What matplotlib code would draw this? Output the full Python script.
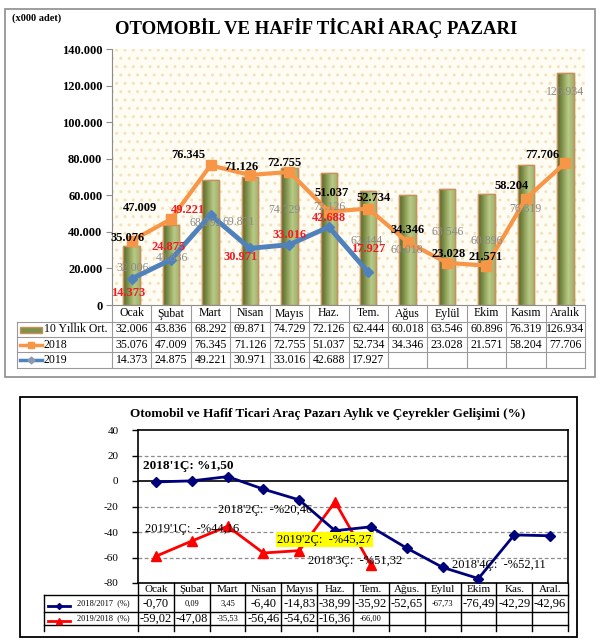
import matplotlib.pyplot as plt
import numpy as np
from matplotlib.patches import Rectangle
from matplotlib.lines import Line2D
from matplotlib.colors import LinearSegmentedColormap
from matplotlib.transforms import blended_transform_factory

plt.rcParams['font.family'] = ['Liberation Serif', 'DejaVu Serif']

# ---- data: top chart (x000 adet)
months = ['Ocak', 'Şubat', 'Mart', 'Nisan', 'Mayıs', 'Haz.', 'Tem.',
          'Ağus', 'Eylül', 'Ekim', 'Kasım', 'Aralık']
avg10 = [32006, 43836, 68292, 69871, 74729, 72126, 62444,
         60018, 63546, 60896, 76319, 126934]
sales2018 = [35076, 47009, 76345, 71126, 72755, 51037, 52734,
             34346, 23028, 21571, 58204, 77706]
sales2019 = [14373, 24875, 49221, 30971, 33016, 42688, 17927]

# ---- data: bottom chart (% change)
months2 = ['Ocak', 'Şubat', 'Mart', 'Nisan', 'Mayıs', 'Haz.', 'Tem.',
           'Ağus.', 'Eylul', 'Ekim', 'Kas.', 'Aral.']
chg1817 = [-0.70, 0.09, 3.45, -6.40, -14.83, -38.99, -35.92,
           -52.65, -67.73, -76.49, -42.29, -42.96]
chg1918 = [-59.02, -47.08, -35.53, -56.46, -54.62, -16.36, -66.00]
quarter_notes = ["2018'1Ç: %1,50", "2018'2Ç:  -%20,46", "2019'1Ç:  -%44,16",
                 "2019'2Ç:  -%45,27", "2018'3Ç:  -%51,32", "2018'4Ç:  -%52,11"]

# hand placed label offsets (pixels)
off2018 = [(-4, 3), (-31, 11), (-22, 10), (-9, 8), (-5, 9), (3, 19),
           (5, 11), (0, 12), (2, 9), (-1, 9), (-14, 13), (-23, 8)]
off2019 = [(-4, -14), (-3, 13), (-23, 5), (-9, -9), (0, 10), (0, 9), (0, 23)]
offavg = [(1, -22), (1, -33), (-5, -43), (-11, -45), (-5, -42), (1, -34),
          (-2, -50), (-1, -55), (1, -43), (0, -47), (0, -44), (0, -19)]
note_pos = [(-0.36, 12), (1.73, -22.5), (-0.31, -37.5),
            (3.38, -46), (4.24, -63), (8.26, -65.5)]
small1817 = [1, 2, 8]
small1918 = [2, 6]

W, H = 607, 644
fig = plt.figure(figsize=(W / 100, H / 100), dpi=100)


def fx(px):
    return px / W


def fy(py):
    return 1 - py / H


def tr_num(v):
    return f'{v:,}'.replace(',', '.')


def tr_pct(v):
    return f'{v:.2f}'.replace('.', ',')


# ================= top panel =================
fig.add_artist(Rectangle((fx(5), fy(377)), fx(590), 368 / H, transform=fig.transFigure,
                         fill=False, edgecolor='#8c8c8c', lw=1.2))
fig.text(fx(12), fy(18), '(x000 adet)', fontsize=7.5, fontweight='bold', va='center')
fig.text(fx(316), fy(28), 'OTOMOBİL VE HAFİF TİCARİ ARAÇ PAZARI', fontsize=13.5,
         fontweight='bold', ha='center', va='center')

ax = fig.add_axes([fx(112), fy(305), fx(473), 256 / H])
x = np.arange(len(months))
ax.add_patch(Rectangle((0, 0), 1, 1, transform=ax.transAxes, facecolor='#fffcf3',
                       edgecolor='#f2e3bd', hatch='..', lw=0, zorder=0))
ax.set_facecolor('white')

bar_cmap = LinearSegmentedColormap.from_list('olive', ['#56642a', '#85974f', '#b9ca88', '#9fb16a'])
grad = np.linspace(0, 1, 64).reshape(1, -1)
bars = ax.bar(x, avg10, width=0.42, color='#97a862', edgecolor='#c8905a', lw=1, zorder=2)
for b in bars:
    im = ax.imshow(grad, extent=[b.get_x(), b.get_x() + b.get_width(), 0, b.get_height()],
                   aspect='auto', cmap=bar_cmap, zorder=2.1)
    im.set_clip_path(b)
    ax.add_patch(Rectangle((b.get_x(), 0), b.get_width(), b.get_height(), fill=False,
                           edgecolor='#c8905a', lw=1, zorder=2.2))

ax.plot(x, sales2018, color='#f79646', lw=3, marker='s', ms=7, zorder=4)
ax.plot(np.arange(len(sales2019)), sales2019, color='#4f81bd', lw=3.5, marker='D',
        ms=5, mec='#4f81bd', zorder=5)

for i, v in enumerate(avg10):
    ax.annotate(tr_num(v), (i, v), xytext=offavg[i], textcoords='offset pixels',
                ha='center', va='center', fontsize=8.5, color='#8a8a8a', zorder=6)
for i, v in enumerate(sales2018):
    ax.annotate(tr_num(v), (i, v), xytext=off2018[i], textcoords='offset pixels',
                ha='center', va='center', fontsize=9, fontweight='bold', color='black', zorder=7)
for i, v in enumerate(sales2019):
    ax.annotate(tr_num(v), (i, v), xytext=off2019[i], textcoords='offset pixels',
                ha='center', va='center', fontsize=9, fontweight='bold', color='#ee1c24', zorder=7)

ax.set_xlim(-0.5, len(months) - 0.5)
ax.set_ylim(0, 140000)
ax.set_yticks(range(0, 140001, 20000))
ax.set_yticklabels([tr_num(t) if t else '0' for t in range(0, 140001, 20000)],
                   fontsize=9, fontweight='bold')
ax.set_xticks([])
for s in ['top', 'right']:
    ax.spines[s].set_visible(False)
ax.spines['left'].set_color('#8c8c8c')
ax.spines['bottom'].set_color('#8c8c8c')
ax.tick_params(axis='y', color='#8c8c8c', length=4, pad=3)

# top data table
tb = blended_transform_factory(ax.transData, fig.transFigure)
rows_top = [305, 322, 337, 352, 368]
gcol = '#9a9a9a'
for k in range(len(months) + 1):
    fig.add_artist(Line2D([k - 0.5, k - 0.5], [fy(305), fy(368)], transform=tb, color=gcol, lw=0.8))
fig.add_artist(Line2D([fx(17), fx(17)], [fy(322), fy(368)], transform=fig.transFigure, color=gcol, lw=0.8))
for py in rows_top[1:]:
    fig.add_artist(Line2D([fx(17), fx(585)], [fy(py), fy(py)], transform=fig.transFigure, color=gcol, lw=0.8))
row_vals = [avg10, sales2018, sales2019]
for i, m in enumerate(months):
    fig.text(i, fy(313.5), m, transform=tb, ha='center', va='center', fontsize=8.5)
    for r, vals in enumerate(row_vals):
        if i < len(vals):
            fig.text(i, fy((rows_top[r + 1] + rows_top[r + 2]) / 2), tr_num(vals[i]),
                     transform=tb, ha='center', va='center', fontsize=8.5)
row_names = ['10 Yıllık Ort.', '2018', '2019']
for r, name in enumerate(row_names):
    yc = fy((rows_top[r + 1] + rows_top[r + 2]) / 2)
    fig.text(fx(44), yc, name, ha='left', va='center', fontsize=8.5)
fig.add_artist(Rectangle((fx(20), fy(333)), fx(22), 6 / H, transform=fig.transFigure,
                         facecolor='#7f9049', edgecolor='#c8905a', lw=1))
fig.add_artist(Line2D([fx(20), fx(42)], [fy(344.5)] * 2, transform=fig.transFigure,
                      color='#f79646', lw=2.5))
fig.add_artist(Line2D([fx(31)], [fy(344.5)], transform=fig.transFigure, color='#f79646',
                      marker='s', ms=5))
fig.add_artist(Line2D([fx(20), fx(42)], [fy(360)] * 2, transform=fig.transFigure,
                      color='#4f81bd', lw=2.5))
fig.add_artist(Line2D([fx(31)], [fy(360)], transform=fig.transFigure, color='#8a9bb0',
                      marker='D', ms=3.5))

# ================= bottom panel =================
fig.add_artist(Rectangle((fx(20), fy(637)), fx(557), 240 / H, transform=fig.transFigure,
                         fill=False, edgecolor='black', lw=1.3))
fig.text(fx(328), fy(414), 'Otomobil ve Hafif Ticari Araç Pazarı Aylık ve Çeyrekler Gelişimi (%)',
         ha='center', va='center', fontsize=9.5, fontweight='bold')

ax2 = fig.add_axes([fx(138), fy(583), fx(430), 153 / H])
x2 = np.arange(len(months2))
ax2.set_xlim(-0.5, len(months2) - 0.5)
ax2.set_ylim(-80, 40)
ax2.set_yticks(range(-80, 41, 20))
ax2.set_yticklabels([str(t) for t in range(-80, 41, 20)], fontsize=8)
ax2.set_xticks([])
for t in [20, -20, -40, -60]:
    ax2.axhline(t, color='#8c8c8c', lw=0.9, ls=(0, (3, 2)), zorder=1)
ax2.axhline(0, color='black', lw=1.2, zorder=1)
for s in ax2.spines.values():
    s.set_color('black')
    s.set_linewidth(1.2)
ax2.tick_params(axis='y', length=4, width=1, pad=10)

ax2.plot(x2, chg1817, color='#00007a', lw=2, marker='D', ms=5, zorder=4)
ax2.plot(np.arange(len(chg1918)), chg1918, color='#ff0000', lw=2, marker='^', ms=7, zorder=3)

for k, (txt, (nx, ny)) in enumerate(zip(quarter_notes, note_pos)):
    if k == 0:
        ax2.text(nx, ny, txt, fontsize=9.5, fontweight='bold', ha='left', va='center', zorder=6)
    elif k == 3:
        ax2.text(nx, ny, txt, fontsize=9, ha='left', va='center', zorder=6,
                 bbox=dict(facecolor='#ffff00', edgecolor='none', pad=1))
    else:
        ax2.text(nx, ny, txt, fontsize=9, ha='left', va='center', zorder=6)

# bottom table
tb2 = blended_transform_factory(ax2.transData, fig.transFigure)
for k in range(len(months2) + 1):
    fig.add_artist(Line2D([k - 0.5, k - 0.5], [fy(583), fy(631)], transform=tb2, color='black', lw=1))
fig.add_artist(Line2D([fx(44), fx(44)], [fy(595), fy(631)], transform=fig.transFigure, color='black', lw=1))
for py in [595, 612, 625]:
    fig.add_artist(Line2D([fx(44), fx(568)], [fy(py), fy(py)], transform=fig.transFigure,
                          color='black', lw=1))
for i, m in enumerate(months2):
    fig.text(i, fy(589), m, transform=tb2, ha='center', va='center', fontsize=8)
    fig.text(i, fy(604), tr_pct(chg1817[i]), transform=tb2, ha='center', va='center',
             fontsize=6 if i in small1817 else 9)
    if i < len(chg1918):
        fig.text(i, fy(619), tr_pct(chg1918[i]), transform=tb2, ha='center', va='center',
                 fontsize=6 if i in small1918 else 9)
fig.text(fx(77), fy(603), '2018/2017  (%)', fontsize=6, va='center')
fig.text(fx(77), fy(618.5), '2019/2018  (%)', fontsize=6, va='center')
fig.add_artist(Line2D([fx(48), fx(70)], [fy(606)] * 2, transform=fig.transFigure, color='#00007a', lw=2))
fig.add_artist(Line2D([fx(59)], [fy(606)], transform=fig.transFigure, color='#00007a', marker='D', ms=3))
fig.add_artist(Line2D([fx(48), fx(70)], [fy(621)] * 2, transform=fig.transFigure, color='#ff0000', lw=2))
fig.add_artist(Line2D([fx(59)], [fy(621)], transform=fig.transFigure, color='#ff0000', marker='^', ms=4))

fig.savefig('out.png', dpi=100)
